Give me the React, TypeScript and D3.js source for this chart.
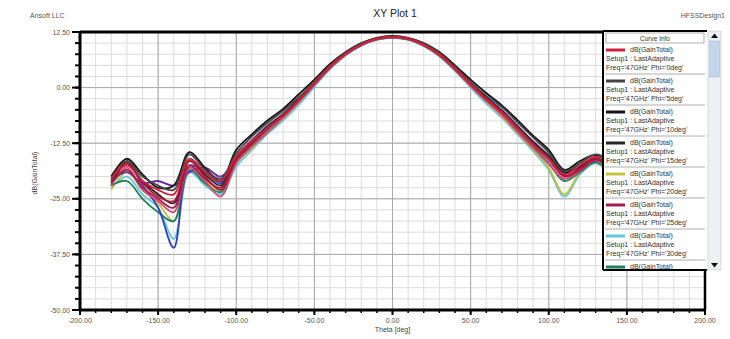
import React from 'react';
import * as d3 from 'd3';

const theta = [-180, -170, -160, -150, -140, -130, -120, -110, -100, -90, -80, -70, -60, -50, -40, -30, -20, -10, 0, 10, 20, 30, 40, 50, 60, 70, 80, 90, 100, 110, 120, 130, 140, 150, 160, 170, 180];

const phiLabels = ["0deg", "5deg", "10deg", "15deg", "20deg", "25deg", "30deg", "35deg", "40deg", "45deg", "50deg", "55deg"];

const gainPhi0 = [-20.5, -17.5, -21, -23, -24, -16, -19, -21, -15.5, -12, -9, -6.2, -2.8, 1, 4.7, 7.6, 9.7, 11, 11.4, 11, 9.7, 7.5, 4.3, 0.8, -2.6, -5.6, -9.2, -12.8, -16, -19.5, -17.5, -15.5, -17, -20, -22, -20, -21];
const gainPhi5 = [-21, -16.5, -20, -22, -23, -15, -18.5, -20.5, -14.8, -11, -7.9, -5.2, -2.2, 1.4, 5, 7.9, 9.9, 11.1, 11.5, 11.1, 9.9, 7.8, 4.7, 1.3, -1.8, -4.4, -7.8, -11.2, -14.6, -18.8, -17, -15, -16.5, -19.5, -21.5, -19.5, -20.5];
const gainPhi10 = [-20, -16, -19.5, -22.5, -22, -14.5, -18, -21, -14, -10.5, -7.4, -4.8, -1.5, 1.8, 5.3, 8, 10, 11.2, 11.6, 11.2, 10, 8, 5, 1.8, -1.2, -4, -7.3, -10.8, -14, -18.5, -16.5, -15.2, -17.5, -20.5, -22, -20.5, -21.5];
const gainPhi15 = [-22, -17, -21, -24, -26, -16.5, -19.5, -22, -15.8, -12.2, -8.7, -6, -2.5, 1.2, 4.9, 7.7, 9.8, 11, 11.4, 11, 9.8, 7.7, 4.5, 1.1, -2.3, -5.2, -8.7, -12.2, -15.4, -19, -17.8, -16, -18.5, -21, -22.5, -20.5, -21];
const gainPhi20 = [-23, -19, -23, -26, -30, -18, -21, -23, -17, -13.6, -10, -6.9, -3.3, 0.6, 4.4, 7.4, 9.6, 10.9, 11.3, 10.9, 9.5, 7.2, 4, 0.4, -3.1, -6.5, -10.2, -13.9, -18, -24, -19, -16.5, -19, -22, -23, -21, -22];
const gainPhi25 = [-21.5, -18.5, -22.5, -25, -27, -17.5, -20.5, -22.5, -16.2, -12.5, -9.1, -6.3, -2.9, 0.9, 4.6, 7.6, 9.7, 11, 11.4, 11, 9.6, 7.4, 4.2, 0.7, -2.7, -5.6, -9.1, -12.7, -16.2, -20, -18.5, -16.2, -18.2, -21, -22.8, -21, -21.5];
const gainPhi30 = [-22.5, -20, -24, -27, -34, -19, -22, -24, -17.8, -14, -10.4, -7.4, -3.9, 0.2, 4.1, 7.2, 9.4, 10.8, 11.2, 10.8, 9.3, 7, 3.7, 0, -3.6, -6.8, -10.5, -14.3, -18.5, -24.5, -19.5, -17, -19.5, -22.5, -23.5, -21.5, -22.5];
const gainPhi35 = [-22, -21, -25, -28, -30, -18.5, -21.5, -23.5, -16.8, -13, -9.5, -6.6, -3.1, 0.6, 4.4, 7.4, 9.5, 10.8, 11.2, 10.8, 9.4, 7.2, 4, 0.5, -2.9, -6, -9.6, -13.2, -17, -21, -19, -16.8, -19, -22, -23, -21, -22];
const gainPhi40 = [-21, -19, -21.5, -21, -22, -19, -18, -20, -16, -12.3, -9, -6.2, -2.8, 0.9, 4.6, 7.5, 9.6, 10.9, 11.3, 10.9, 9.6, 7.4, 4.3, 0.8, -2.5, -5.5, -9, -12.6, -16, -19, -18, -16.5, -17.5, -20.5, -22, -20.5, -21.5];
const gainPhi45 = [-22, -18, -23, -25.5, -28, -18, -21, -24.5, -17, -13.3, -10.1, -6.8, -3.2, 0.6, 4.4, 7.4, 9.6, 10.9, 11.3, 10.9, 9.5, 7.2, 4, 0.4, -3, -6.2, -10, -13.6, -17.2, -20.5, -18.8, -16.3, -18.8, -21.5, -22.5, -21, -21.5];
const gainPhi50 = [-21.5, -17, -22, -27, -36, -17.5, -19, -21.5, -15.5, -11.8, -8.6, -5.9, -2.5, 1.2, 4.9, 7.7, 9.8, 11, 11.4, 11, 9.8, 7.6, 4.5, 1.1, -2.2, -5.1, -8.6, -12.1, -15.3, -19.2, -17.5, -15.8, -17.8, -20.8, -22.2, -20.2, -21.2];
const gainPhi55 = [-20.5, -17, -21.5, -24.5, -25.5, -16.5, -20, -23, -16.2, -12.6, -9.2, -6.3, -2.9, 0.9, 4.7, 7.6, 9.7, 11, 11.4, 11, 9.7, 7.5, 4.3, 0.9, -2.5, -5.4, -9, -12.6, -15.8, -19.8, -18.2, -15.9, -18, -20.8, -22.6, -20.6, -21.4];

const seriesValues = [gainPhi0, gainPhi5, gainPhi10, gainPhi15, gainPhi20, gainPhi25, gainPhi30, gainPhi35, gainPhi40, gainPhi45, gainPhi50, gainPhi55];
const seriesColors = ["#d0203a", "#454545", "#151515", "#252525", "#c8c040", "#a02050", "#60c8d8", "#208060", "#6a28a8", "#d84878", "#3040c0", "#b01830"];

const xTicks = [-200, -150, -100, -50, 0, 50, 100, 150, 200];
const yTicks = [12.5, 0, -12.5, -25, -37.5, -50];

const FONT = "'Liberation Sans', Arial, sans-serif";

export default function App() {
  const W = 730, H = 339;
  const left = 80, right = 705, top = 32, bottom = 310;
  const x = d3.scaleLinear().domain([-200, 200]).range([left, right]);
  const y = d3.scaleLinear().domain([-50, 12.5]).range([bottom, top]);
  const line = d3.line<number>()
    .x((_, i) => x(theta[i]))
    .y(d => y(d))
    .curve(d3.curveCatmullRom.alpha(0.5));

  const minorX = d3.range(-200, 200.01, 10);
  const minorY = d3.range(-50, 12.51, 2.5);
  const legendCount = 8;
  const lgX = 603, lgY = 31, lgR = 707, lgB = 270;
  // draw order: reds drawn last so they dominate like the reference
  const drawOrder = [6, 4, 7, 10, 8, 2, 3, 1, 9, 5, 11, 0];

  return (
    <svg width={W} height={H} style={{ position: 'absolute', left: 0, top: 0, background: '#fff' }} fontFamily={FONT}>
      <defs>
        <clipPath id="plotclip"><rect x={left} y={top} width={right - left} height={bottom - top} /></clipPath>
        <clipPath id="legclip"><rect x={lgX} y={lgY} width={lgR - lgX} height={lgB - lgY} /></clipPath>
      </defs>
      <rect x={0} y={0} width={W} height={H} fill="#fff" />
      {minorX.map(v => (
        <line key={'mx' + v} x1={x(v)} x2={x(v)} y1={top} y2={bottom} stroke="#dcdcdc" strokeWidth={1} />
      ))}
      {minorY.map(v => (
        <line key={'my' + v} x1={left} x2={right} y1={y(v)} y2={y(v)} stroke="#dcdcdc" strokeWidth={1} />
      ))}
      {xTicks.map(v => (
        <line key={'gx' + v} x1={x(v)} x2={x(v)} y1={top} y2={bottom} stroke="#a8a8a8" strokeWidth={1} />
      ))}
      {yTicks.map(v => (
        <line key={'gy' + v} x1={left} x2={right} y1={y(v)} y2={y(v)} stroke="#a8a8a8" strokeWidth={1} />
      ))}
      <g clipPath="url(#plotclip)">
        {drawOrder.map(i => (
          <path key={'s' + i} d={line(seriesValues[i]) || ''} fill="none" stroke={seriesColors[i]} strokeWidth={1.8} strokeLinejoin="round" />
        ))}
      </g>
      <line x1={left} x2={right} y1={top} y2={top} stroke="#000" strokeWidth={3} />
      <line x1={left} x2={right} y1={bottom} y2={bottom} stroke="#000" strokeWidth={3} />
      <line x1={left} x2={left} y1={top} y2={bottom} stroke="#000" strokeWidth={3} />
      <line x1={right} x2={right} y1={top} y2={bottom} stroke="#000" strokeWidth={2.5} />
      {minorY.map(v => (
        <line key={'ty' + v} x1={left - 5} x2={left} y1={y(v)} y2={y(v)} stroke="#000" strokeWidth={2} />
      ))}
      {yTicks.map(v => (
        <line key={'tyM' + v} x1={left - 8} x2={left} y1={y(v)} y2={y(v)} stroke="#000" strokeWidth={2} />
      ))}
      {yTicks.map(v => (
        <text key={'ly' + v} x={left - 10} y={y(v) + 2.5} fontSize={7} fill="#555" textAnchor="end">{v.toFixed(2)}</text>
      ))}
      {minorX.map(v => (
        <line key={'tx' + v} x1={x(v)} x2={x(v)} y1={bottom} y2={bottom + 3} stroke="#000" strokeWidth={1.5} />
      ))}
      {xTicks.map(v => (
        <line key={'txM' + v} x1={x(v)} x2={x(v)} y1={bottom} y2={bottom + 5} stroke="#000" strokeWidth={2} />
      ))}
      {xTicks.map(v => (
        <text key={'lx' + v} x={x(v)} y={bottom + 13} fontSize={7} fill="#555" textAnchor="middle">{v.toFixed(2)}</text>
      ))}
      <text x={x(0)} y={bottom + 22} fontSize={7} fill="#444" textAnchor="middle">Theta [deg]</text>
      <text transform={`translate(37,173) rotate(-90)`} fontSize={7} fill="#444" textAnchor="middle">dB(GainTotal)</text>
      <text x={395} y={17} fontSize={10.5} fill="#222" textAnchor="middle">XY Plot 1</text>
      <text x={30} y={18} fontSize={7} fill="#555">Ansoft LLC</text>
      <text x={725} y={18} fontSize={7} fill="#555" textAnchor="end">HFSSDesign1</text>
      <rect x={lgX} y={lgY} width={lgR - lgX} height={lgB - lgY} fill="#fff" stroke="none" />
      <g clipPath="url(#legclip)">
        <rect x={lgX + 3} y={lgY + 2} width={lgR - lgX - 6} height={10} fill="#fff" stroke="#9a9a9a" strokeWidth={0.8} />
        <text x={(lgX + lgR) / 2} y={lgY + 9.5} fontSize={6.5} fill="#333" textAnchor="middle">Curve Info</text>
        {seriesValues.slice(0, legendCount).map((_, k) => {
          const yk = 52 + k * 31;
          return (
            <g key={'lg' + k}>
              <line x1={lgX + 3} x2={lgX + 22} y1={yk - 2} y2={yk - 2} stroke={seriesColors[k]} strokeWidth={3} />
              <text x={lgX + 27} y={yk} fontSize={7} fill="#333">dB(GainTotal)</text>
              <text x={lgX + 3} y={yk + 9} fontSize={7} fill="#333">Setup1 : LastAdaptive</text>
              <text x={lgX + 3} y={yk + 18} fontSize={7} fill="#333">{`Freq='47GHz' Phi='${phiLabels[k]}'`}</text>
              <line x1={lgX + 2} x2={lgR - 2} y1={yk + 22} y2={yk + 22} stroke="#9a9a9a" strokeWidth={0.8} />
            </g>
          );
        })}
      </g>
      <line x1={lgX} x2={lgX} y1={lgY} y2={lgB} stroke="#000" strokeWidth={2} />
      <line x1={lgX} x2={lgR} y1={lgB} y2={lgB} stroke="#000" strokeWidth={2} />
      <line x1={lgX} x2={lgR} y1={lgY} y2={lgY} stroke="#000" strokeWidth={2} />
      <rect x={lgR + 1} y={lgY} width={13} height={lgB - lgY} fill="#eef0f4" stroke="#c8c8c8" strokeWidth={0.6} />
      <rect x={lgR + 2.5} y={lgY + 10} width={10} height={36} fill="#c4d6ee" stroke="#a8bcd8" strokeWidth={0.6} />
      <path d={`M${lgR + 4},${lgY + 7} L${lgR + 7.5},${lgY + 2.5} L${lgR + 11},${lgY + 7} Z`} fill="#111" />
      <path d={`M${lgR + 4},${lgB - 7} L${lgR + 7.5},${lgB - 2.5} L${lgR + 11},${lgB - 7} Z`} fill="#111" />
    </svg>
  );
}
